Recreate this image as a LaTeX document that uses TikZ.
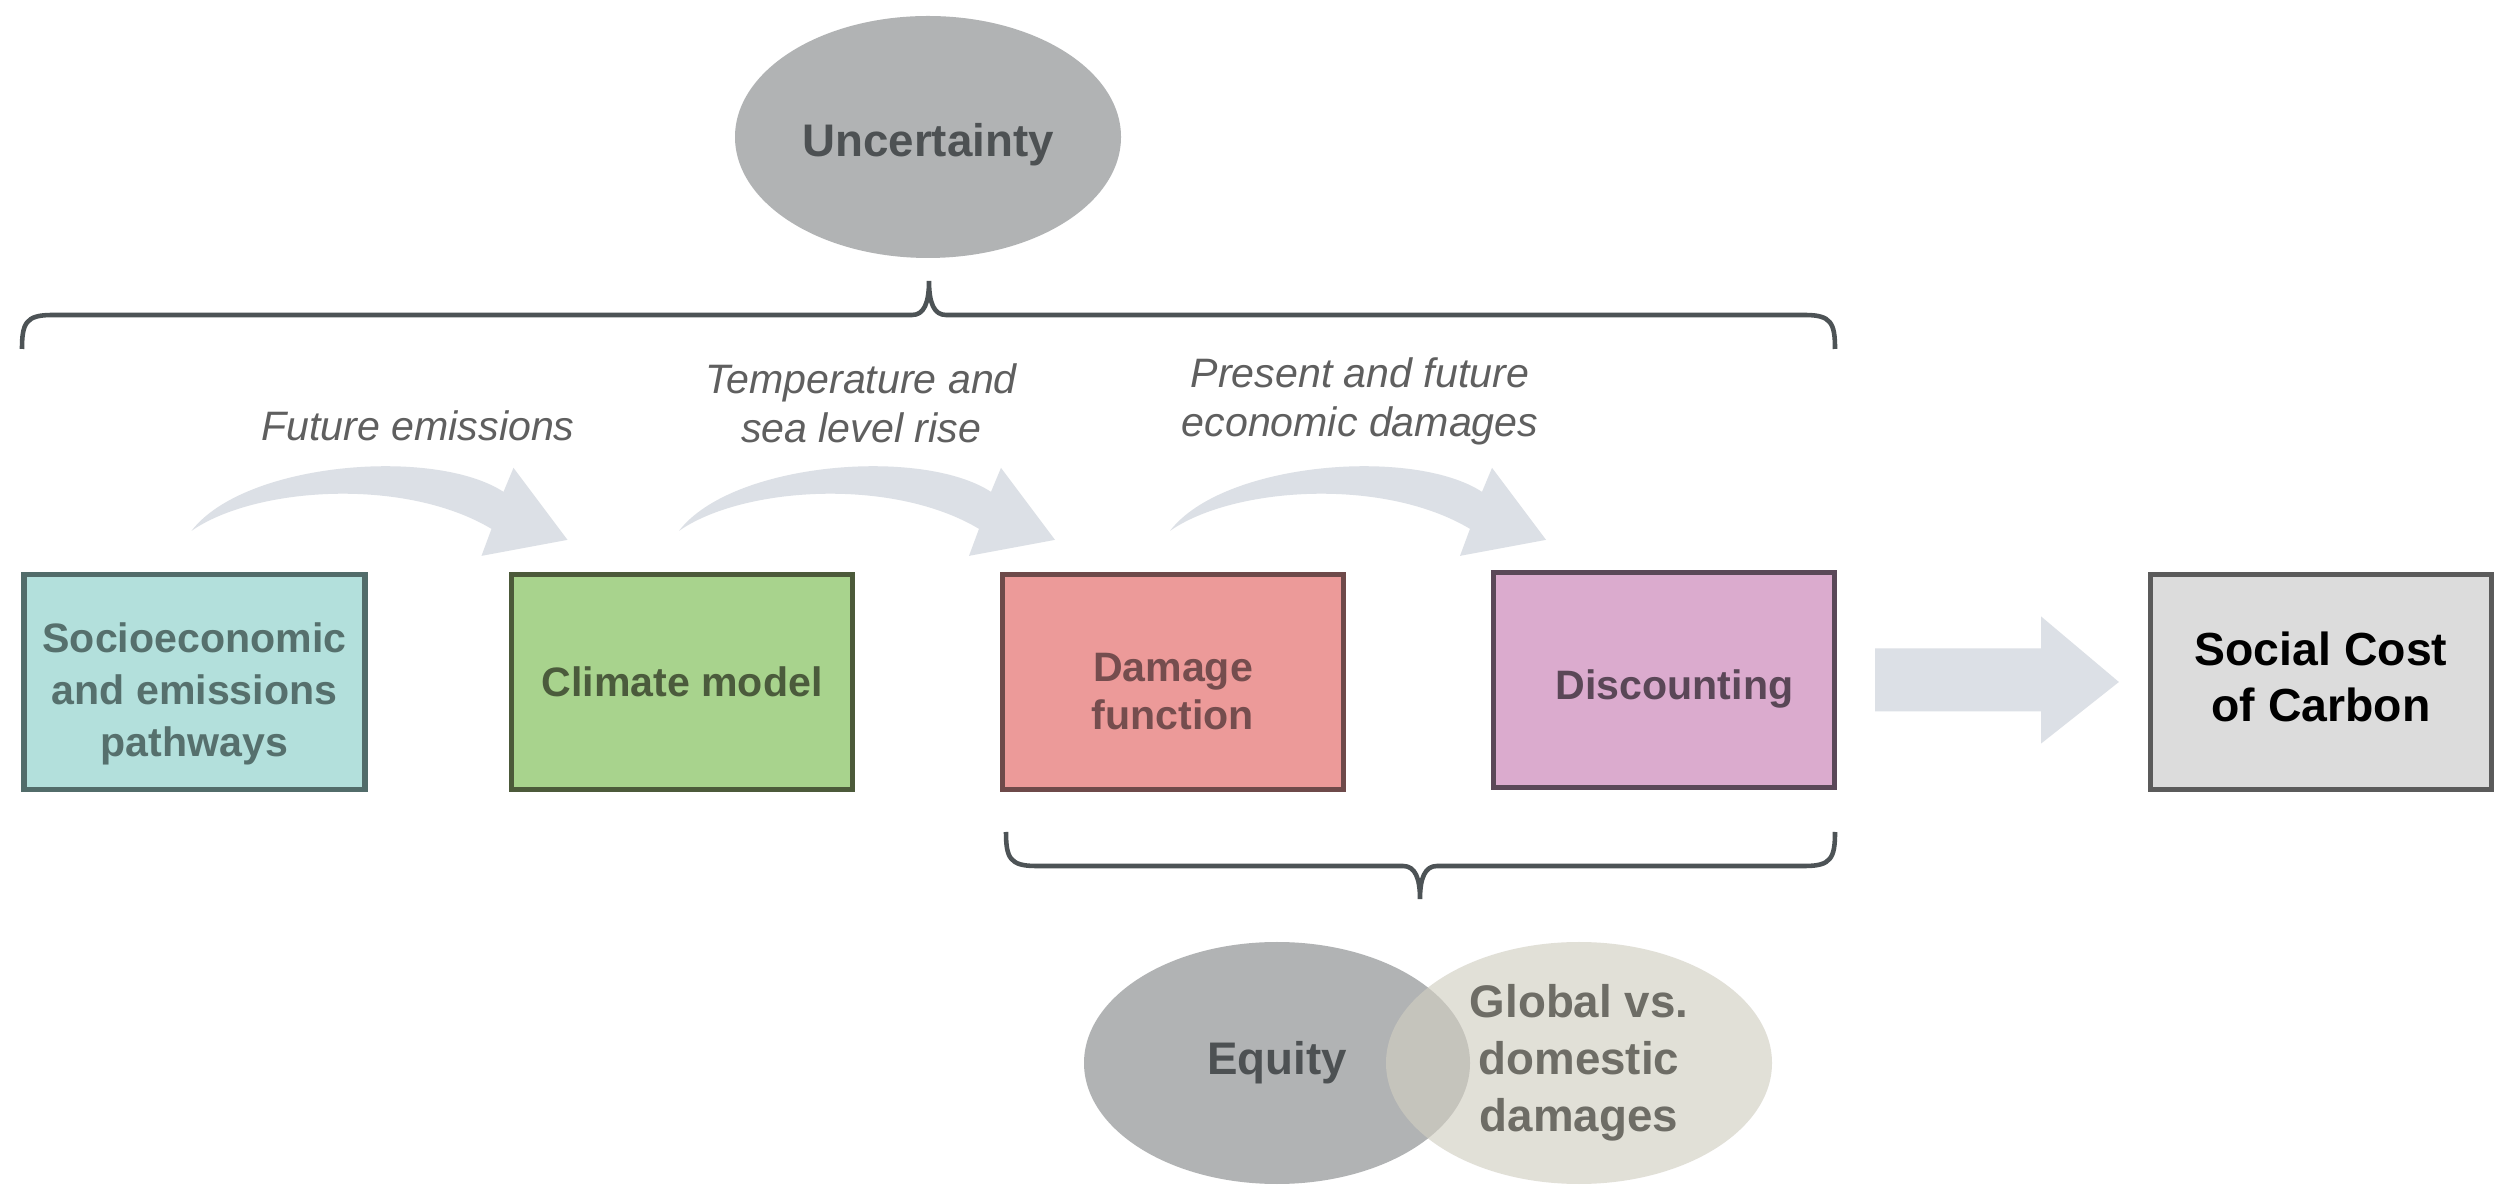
\documentclass[tikz,border=0pt]{standalone}
\usepackage{fontspec}
\setmainfont{Liberation Sans}
\usetikzlibrary{shapes.geometric,calc}

\definecolor{cloudgray}{RGB}{177,179,180}
\definecolor{inkgray}{RGB}{77,81,83}
\definecolor{bracegray}{RGB}{77,83,86}
\definecolor{labelgray}{RGB}{95,95,95}
\definecolor{arrowgray}{RGB}{220,224,230}
\definecolor{sociofill}{RGB}{179,224,220}
\definecolor{socioline}{RGB}{82,108,106}
\definecolor{sociotext}{RGB}{86,112,109}
\definecolor{climfill}{RGB}{168,211,141}
\definecolor{climline}{RGB}{76,90,58}
\definecolor{climtext}{RGB}{75,91,60}
\definecolor{dmgfill}{RGB}{236,154,153}
\definecolor{dmgline}{RGB}{110,74,74}
\definecolor{dmgtext}{RGB}{117,77,78}
\definecolor{discfill}{RGB}{219,171,206}
\definecolor{discline}{RGB}{90,72,88}
\definecolor{disctext}{RGB}{90,71,87}
\definecolor{sccfill}{RGB}{220,220,220}
\definecolor{sccline}{RGB}{91,91,91}
\definecolor{globfill}{RGB}{209,206,193}
\definecolor{globtext}{RGB}{110,109,102}

\tikzset{
  stage/.style={draw, line width=1.5pt, minimum width=3.41cm, minimum height=2.15cm,
    inner sep=2pt, align=center, font=\fontsize{11.7}{13.8}\selectfont\bfseries},
  bubble/.style={ellipse, minimum width=3.86cm, minimum height=2.42cm, inner sep=0pt,
    align=center, font=\fontsize{13}{16.3}\selectfont\bfseries},
  flowlabel/.style={align=center, text=labelgray, font=\fontsize{11.7}{14}\selectfont\itshape},
  bracket/.style={draw=bracegray, line width=1.3pt}
}

\begin{document}
\begin{tikzpicture}
   \fill[white] (0,0) rectangle (25,11.95);
   \useasboundingbox (0,0) rectangle (25,11.95);

   % stages
   \node[stage, fill=sociofill, draw=socioline, text=sociotext, font=\fontsize{11.7}{14.8}\selectfont\bfseries] (socio) at (1.945,5.13) {\rule{0pt}{15pt}Socioeconomic\\and emissions\\pathways};
   \node[stage, fill=climfill, draw=climline, text=climtext] (climate) at (6.82,5.13) {Climate model};
   \node[stage, fill=dmgfill, draw=dmgline, text=dmgtext] (damage) at (11.73,5.13) {\rule{0pt}{13.5pt}Damage\\function};
   \node[stage, fill=discfill, draw=discline, text=disctext] (disc) at (16.64,5.15) {\rule{0pt}{13.5pt}\hspace*{0.21cm}Discounting};
   \node[stage, fill=sccfill, draw=sccline, text=black, font=\fontsize{13.2}{15.9}\selectfont\bfseries] (scc) at (23.21,5.13) {Social Cost\\of Carbon\rule[-3.2pt]{0pt}{3.2pt}};

   % bent arrows between the stages
   \foreach \from in {socio,climate,damage}
      \fill[arrowgray, shift={(\from.north)}] (-0.03,0.41) .. controls (0.5,1.1) and (2.4,1.25) .. (3.09,0.80) -- (3.19,1.04) -- (3.73,0.32) -- (2.87,0.16) -- (2.97,0.43) .. controls (2.1,0.95) and (0.6,0.85) .. (-0.03,0.41) -- cycle;

   \node[flowlabel] (emis) at (4.18,7.69) {Future emissions};
   \node[flowlabel] (temp) at (8.61,7.92) {Temperature and\\sea level rise};
   \node[flowlabel] (econ) at (13.60,7.97) {\rule{0pt}{10.5pt}Present and future\\economic damages};

   % block arrow to the result
   \fill[arrowgray] ($(disc.east)+(0.38,0.315)$) -- ($(disc.east)+(2.04,0.315)$) -- ($(disc.east)+(2.04,0.635)$) -- ($(scc.west)+(-0.29,0)$) -- ($(disc.east)+(2.04,-0.635)$) -- ($(disc.east)+(2.04,-0.315)$) -- ($(disc.east)+(0.38,-0.315)$) -- cycle;

   % uncertainty over the whole chain
   \node[bubble, fill=cloudgray, text=inkgray] (uncert) at (9.28,10.58) {\rule{0pt}{13.9pt}Uncertainty};
   \draw[bracket] (0.22,8.46) .. controls (0.22,8.72) and (0.26,8.80) .. (0.52,8.80) -- (9.12,8.80) .. controls (9.24,8.80) and (9.29,8.92) .. (9.29,9.14) .. controls (9.29,8.92) and (9.34,8.80) .. (9.46,8.80) -- (18.05,8.80) .. controls (18.31,8.80) and (18.35,8.72) .. (18.35,8.46);

   % equity under damages and discounting
   \draw[bracket] (10.06,3.63) .. controls (10.06,3.37) and (10.10,3.29) .. (10.36,3.29) -- (14.03,3.29) .. controls (14.15,3.29) and (14.20,3.17) .. (14.20,2.96) .. controls (14.20,3.17) and (14.25,3.29) .. (14.37,3.29) -- (18.05,3.29) .. controls (18.31,3.29) and (18.35,3.37) .. (18.35,3.63);
   \node[bubble, fill=cloudgray, text=inkgray] (equity) at (12.77,1.32) {Equity};
   \node[bubble, fill=globfill, fill opacity=0.63, text opacity=1, text=globtext] (global) at (15.79,1.32) {Global vs.\\domestic\\damages};
\end{tikzpicture}
\end{document}
